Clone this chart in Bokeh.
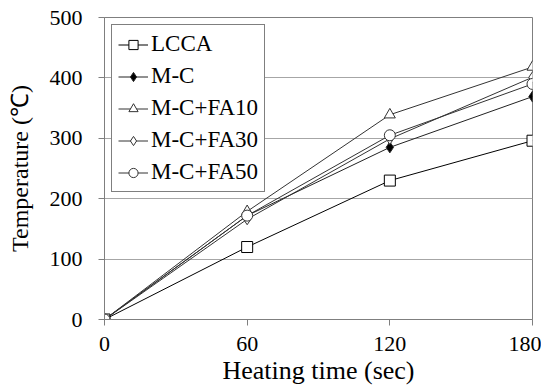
from bokeh.plotting import figure
from bokeh.models import Range1d, FixedTicker, Legend
from bokeh.embed import file_html
from bokeh.resources import INLINE

time_sec = [0, 60, 120, 180]
lcca = [0, 120, 230, 296]
mc = [0, 172, 285, 369]
fa10 = [0, 179, 339, 418]
fa30 = [0, 166, 299, 401]
fa50 = [0, 172, 305, 390]

series = [
    ("LCCA", lcca, "square", "white", "#000000"),
    ("M-C", mc, "diamond", "black", "#222222"),
    ("M-C+FA10", fa10, "triangle", "white", "#333333"),
    ("M-C+FA30", fa30, "diamond", "white", "#333333"),
    ("M-C+FA50", fa50, "circle", "white", "#333333"),
]

FONT = "Liberation Serif"

p = figure(width=541, height=391, output_backend="svg", toolbar_location=None,
           x_range=Range1d(0, 180), y_range=Range1d(0, 500),
           min_border_left=104, min_border_right=9, min_border_top=17, min_border_bottom=72)
p.outline_line_color = "#7f7f7f"
p.outline_line_width = 1
p.background_fill_color = "white"
p.border_fill_color = "white"

p.xaxis.ticker = FixedTicker(ticks=time_sec)
p.yaxis.ticker = FixedTicker(ticks=[0, 100, 200, 300, 400, 500])
p.xgrid.visible = False
p.ygrid.grid_line_color = "#a6a6a6"
p.ygrid.grid_line_width = 1

p.axis.axis_line_color = "#7f7f7f"
p.axis.major_tick_line_color = "#7f7f7f"
p.axis.major_tick_in = 0
p.axis.major_tick_out = 6
p.axis.minor_tick_line_color = None
p.axis.major_label_text_font = FONT
p.axis.major_label_text_font_size = "22px"
p.axis.major_label_text_color = "#000000"
p.axis.axis_label_text_font = FONT
p.axis.axis_label_text_font_style = "normal"
p.axis.axis_label_text_color = "#000000"
p.xaxis.axis_label_text_font_size = "26px"
p.yaxis.axis_label_text_font_size = "24px"

p.xaxis.axis_label = "Heating time (sec)"
p.yaxis.axis_label = "Temperature (℃)"
p.xaxis.major_label_standoff = 11
p.yaxis.major_label_standoff = 16
p.xaxis.axis_label_standoff = 2
p.yaxis.axis_label_standoff = 14

items = []
for name, vals, marker, fill, col in series:
    r1 = p.line(time_sec, vals, line_color=col, line_width=1)
    r2 = p.scatter(time_sec, vals, marker=marker, size=11, fill_color=fill,
                   line_color=col, line_width=1)
    items.append((name, [r1, r2]))

legend = Legend(items=items, location="top_left")
legend.border_line_color = "#000000"
legend.border_line_width = 1
legend.label_text_font = FONT
legend.label_text_font_size = "23px"
legend.label_text_color = "#000000"
legend.label_height = 23
legend.glyph_height = 23
legend.glyph_width = 30
legend.label_standoff = 3
legend.spacing = 6
legend.padding = 6
legend.margin = 7
legend.background_fill_alpha = 1
p.add_layout(legend, "center")

open("out.html", "w").write(file_html(p, INLINE))
